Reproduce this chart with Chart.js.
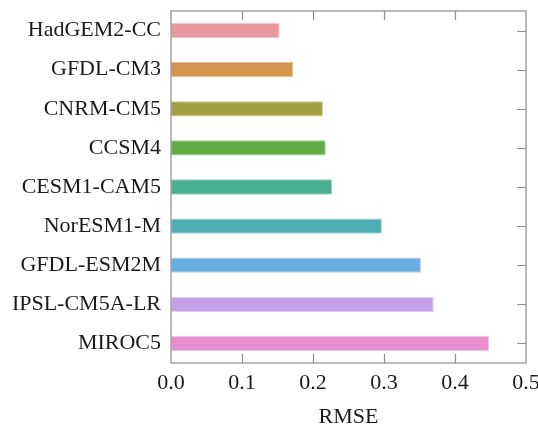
<!DOCTYPE html>
<html>
<head>
<meta charset="utf-8">
<script src="https://cdn.jsdelivr.net/npm/chart.js@4/dist/chart.umd.min.js"></script>
<style>
    html, body { margin: 0; padding: 0; background: #ffffff; }
    #wrap { width: 538px; height: 430px; }
</style>
</head>
<body>
<div id="wrap"><canvas id="rmse-chart"></canvas></div>
<script>
var models = ['HadGEM2-CC', 'GFDL-CM3', 'CNRM-CM5', 'CCSM4', 'CESM1-CAM5', 'NorESM1-M', 'GFDL-ESM2M', 'IPSL-CM5A-LR', 'MIROC5'];
var rmse = [0.153, 0.172, 0.214, 0.218, 0.227, 0.297, 0.352, 0.370, 0.448];
var xTicks = [0.0, 0.1, 0.2, 0.3, 0.4, 0.5];

var fillColors = ['#e9979f', '#d2964f', '#a29f45', '#5fac48', '#4aae90', '#4eacb4', '#6aaee1', '#c4a0e8', '#e88fcf'];
var edgeColors = ['#f3c3c9', '#e6c198', '#cfcb96', '#a7d398', '#9cd3c0', '#9dd2d6', '#b3d3ee', '#e0cdf3', '#f3c3e6'];

var frameColor = '#8c8c8c';

// box frame + inward ticks, pgfplots style
var boxTicks = {
    id: 'boxTicks',
    afterDraw: function (chart) {
        var ctx = chart.ctx;
        var area = chart.chartArea;
        var xs = chart.scales.x;
        var ys = chart.scales.y;
        var len = 9;
        ctx.save();
        ctx.strokeStyle = frameColor;
        ctx.lineWidth = 1.2;
        ctx.beginPath();
        xTicks.forEach(function (v) {
            if (v <= xs.min || v >= xs.max) {
                return;
            }
            var px = Math.round(xs.getPixelForValue(v)) + 0.5;
            ctx.moveTo(px, area.top);
            ctx.lineTo(px, area.top + len);
            ctx.moveTo(px, area.bottom);
            ctx.lineTo(px, area.bottom - len);
        });
        models.forEach(function (m, i) {
            var py = Math.round(ys.getPixelForValue(i)) + 0.5;
            ctx.moveTo(area.right, py);
            ctx.lineTo(area.right - len, py);
        });
        ctx.stroke();
        ctx.strokeRect(area.left, area.top, area.right - area.left, area.bottom - area.top);
        ctx.restore();
    }
};

var ctx = document.getElementById('rmse-chart').getContext('2d');
new Chart(ctx, {
    type: 'bar',
    data: {
        labels: models,
        datasets: [{
            label: 'RMSE',
            data: rmse,
            backgroundColor: fillColors,
            borderColor: edgeColors,
            borderWidth: 1,
            borderSkipped: false,
            barPercentage: 0.39,
            categoryPercentage: 1.0
        }]
    },
    options: {
        indexAxis: 'y',
        responsive: true,
        maintainAspectRatio: false,
        animation: false,
        layout: {
            padding: { top: 11, right: 12, left: 11, bottom: 0 }
        },
        plugins: {
            legend: { display: false },
            tooltip: { enabled: false }
        },
        scales: {
            x: {
                type: 'linear',
                min: 0,
                max: 0.5,
                afterBuildTicks: function (scale) {
                    scale.ticks = xTicks.map(function (v) { return { value: v }; });
                },
                afterFit: function (scale) {
                    scale.height = 67;
                    scale.paddingLeft = 0;
                    scale.paddingRight = 0;
                },
                grid: { display: false, drawTicks: false },
                border: { display: false },
                ticks: {
                    padding: 7,
                    color: '#1a1a1a',
                    font: { family: 'Liberation Serif', size: 22 },
                    maxRotation: 0,
                    callback: function (v) { return Number(v).toFixed(1); }
                },
                title: {
                    display: true,
                    text: 'RMSE',
                    color: '#1a1a1a',
                    font: { family: 'Liberation Serif', size: 22 },
                    padding: { top: 8, bottom: 0 }
                }
            },
            y: {
                afterFit: function (scale) {
                    scale.width = 160;
                    scale.paddingTop = 0;
                    scale.paddingBottom = 0;
                },
                grid: { display: false, drawTicks: false },
                border: { display: false },
                ticks: {
                    padding: 10,
                    color: '#1a1a1a',
                    font: { family: 'Liberation Serif', size: 22 }
                }
            }
        }
    },
    plugins: [boxTicks]
});
</script>
</body>
</html>
